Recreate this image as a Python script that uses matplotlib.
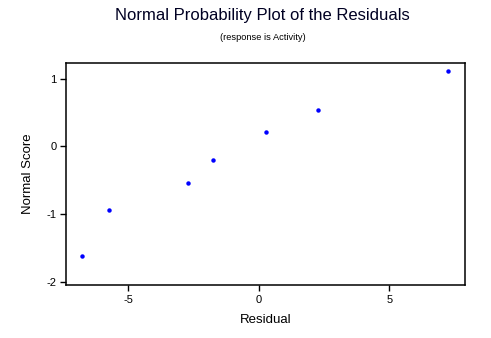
import numpy as np
import matplotlib
matplotlib.use("Agg")
import matplotlib.pyplot as plt

plt.rcParams['font.family'] = ['Liberation Sans', 'DejaVu Sans']
plt.rcParams['axes.unicode_minus'] = False

# residuals vs normal scores
residual = [-6.77, -5.73, -2.73, -1.75, 0.27, 2.25, 7.26]
normal_score = [-1.625, -0.934, -0.539, -0.198, 0.216, 0.538, 1.12]
x_ticks = [-5, 0, 5]
y_ticks = [-2, -1, 0, 1]

fig = plt.figure(figsize=(4.91, 3.38), dpi=100)
ax = fig.add_axes([0.1354, 0.1568, 0.947 - 0.1354, 0.8145 - 0.1568])

ax.plot(residual, normal_score, 'o', color='#0000ff', markersize=3.2, markeredgewidth=0)

ax.set_xlim(-7.37, 7.9)
ax.set_ylim(-2.05, 1.24)
ax.set_xticks(x_ticks)
ax.set_yticks(y_ticks)
ax.tick_params(direction='out', length=4, width=1, labelsize=8, pad=3,
               top=False, right=False)
for s in ax.spines.values():
    s.set_linewidth(1.1)

ax.set_xlabel('Residual', fontsize=9.5, labelpad=7)
ax.set_ylabel('Normal Score', fontsize=9.5, labelpad=9)

fig.text(0.535, 0.955, 'Normal Probability Plot of the Residuals', fontsize=12,
         ha='center', va='center', color='#000022')
fig.text(0.535, 0.89, '(response is Activity)', fontsize=6.7, ha='center', va='center')

fig.savefig('out.png', dpi=100)
